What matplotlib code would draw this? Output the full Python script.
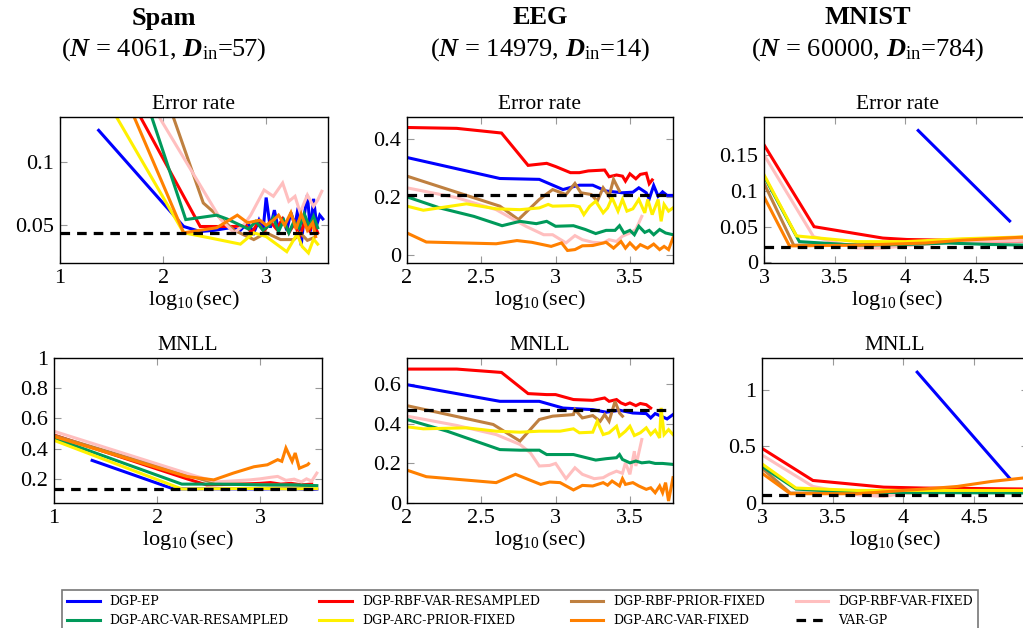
import matplotlib
matplotlib.use('Agg')
import matplotlib.pyplot as plt

plt.rcParams['font.family'] = ['Liberation Serif', 'DejaVu Serif']
plt.rcParams['mathtext.fontset'] = 'custom'
plt.rcParams['mathtext.rm'] = 'Liberation Serif'
plt.rcParams['mathtext.it'] = 'Liberation Serif:italic'
plt.rcParams['mathtext.bf'] = 'Liberation Serif:bold:italic'

##------------------------------------------------------##
# values (x = log10(sec))

# Spam, error rate
spam_err_ep = [(1.375, 0.1254), (2.2, 0.049), (2.36, 0.045), (2.5, 0.046), (2.65, 0.048), (2.75, 0.046),
               (2.82, 0.052), (2.88, 0.044), (2.93, 0.054), (2.97, 0.046), (3.0, 0.072), (3.04, 0.048),
               (3.08, 0.062), (3.12, 0.046), (3.16, 0.056), (3.2, 0.046), (3.24, 0.06), (3.28, 0.05),
               (3.31, 0.064), (3.34, 0.034), (3.37, 0.058), (3.4, 0.074), (3.43, 0.045), (3.46, 0.071),
               (3.49, 0.05), (3.52, 0.058), (3.55, 0.055)]
spam_err_rbf_var_res = [(1.4, 0.193), (2.36, 0.049), (2.5, 0.049), (2.69, 0.049), (2.8, 0.05), (2.86, 0.044),
                        (2.92, 0.052), (2.98, 0.045), (3.04, 0.053), (3.1, 0.047), (3.16, 0.055), (3.22, 0.044),
                        (3.28, 0.052), (3.32, 0.04), (3.38, 0.054), (3.42, 0.046), (3.46, 0.052), (3.5, 0.044)]
spam_err_rbf_prior_fix = [(1.6, 0.253), (2.39, 0.0677), (2.69, 0.046), (2.88, 0.0386), (3.0, 0.044),
                          (3.14, 0.0386), (3.27, 0.0386), (3.33, 0.044), (3.4, 0.038), (3.46, 0.04)]
spam_err_rbf_var_fix = [(1.5, 0.199), (2.56, 0.0545), (2.69, 0.044), (2.78, 0.05), (2.85, 0.058), (2.98, 0.078),
                        (3.07, 0.073), (3.16, 0.0836), (3.22, 0.069), (3.28, 0.073), (3.33, 0.06), (3.4, 0.074),
                        (3.46, 0.065), (3.5, 0.07), (3.54, 0.077)]
spam_err_arc_var_res = [(1.5, 0.232), (2.22, 0.0545), (2.52, 0.058), (2.62, 0.055), (2.75, 0.05), (2.83, 0.047),
                        (2.9, 0.053), (2.97, 0.046), (3.03, 0.05), (3.07, 0.056), (3.12, 0.045), (3.17, 0.054),
                        (3.22, 0.044), (3.27, 0.053), (3.32, 0.048), (3.37, 0.059), (3.42, 0.049), (3.46, 0.057),
                        (3.5, 0.048)]
spam_err_arc_prior_fix = [(1.3, 0.171), (2.2, 0.044), (2.45, 0.04), (2.75, 0.035), (2.88, 0.044), (3.0, 0.041),
                          (3.1, 0.035), (3.2, 0.029), (3.3, 0.043), (3.35, 0.033), (3.41, 0.028), (3.46, 0.039),
                          (3.5, 0.035)]
spam_err_arc_var_fix = [(1.4, 0.197), (2.2, 0.044), (2.52, 0.048), (2.72, 0.058), (2.82, 0.052), (2.94, 0.054),
                        (3.0, 0.05), (3.07, 0.054), (3.12, 0.058), (3.18, 0.05), (3.24, 0.06), (3.29, 0.047),
                        (3.34, 0.059), (3.4, 0.046), (3.45, 0.052), (3.48, 0.041)]
spam_err_vargp = [(1.0, 0.0439), (3.5, 0.0439)]

# Spam, MNLL
spam_nll_ep = [(1.37, 0.322), (2.16, 0.133), (2.5, 0.134), (3.0, 0.133), (3.3, 0.135), (3.5, 0.13), (3.55, 0.132)]
spam_nll_rbf_var_res = [(1.0, 0.49), (2.29, 0.2), (2.48, 0.16), (2.8, 0.165), (3.0, 0.17), (3.1, 0.175),
                        (3.2, 0.165), (3.3, 0.17), (3.4, 0.16), (3.5, 0.165)]
spam_nll_rbf_prior_fix = [(1.0, 0.487), (2.45, 0.193), (2.58, 0.17), (2.8, 0.165), (3.1, 0.16), (3.4, 0.158),
                          (3.5, 0.155)]
spam_nll_rbf_var_fix = [(1.0, 0.515), (2.39, 0.215), (2.58, 0.18), (2.9, 0.193), (3.0, 0.2), (3.1, 0.21),
                        (3.17, 0.216), (3.25, 0.19), (3.33, 0.198), (3.4, 0.18), (3.45, 0.2), (3.5, 0.185),
                        (3.55, 0.238)]
spam_nll_arc_var_res = [(1.0, 0.47), (2.24, 0.165), (2.6, 0.165), (3.0, 0.16), (3.3, 0.16), (3.55, 0.155)]
spam_nll_arc_prior_fix = [(1.0, 0.455), (2.24, 0.133), (2.6, 0.135), (3.0, 0.136), (3.3, 0.134), (3.55, 0.135)]
spam_nll_arc_var_fix = [(1.0, 0.48), (2.29, 0.215), (2.55, 0.193), (2.74, 0.238), (2.94, 0.28), (3.07, 0.293),
                        (3.17, 0.327), (3.21, 0.316), (3.25, 0.404), (3.31, 0.316), (3.34, 0.371), (3.38, 0.27),
                        (3.46, 0.293), (3.47, 0.30)]
spam_nll_vargp = [(1.0, 0.133), (3.55, 0.133)]

# EEG, error rate
eeg_err_ep = [(2.0, 0.336), (2.625, 0.264), (2.89, 0.261), (3.05, 0.226), (3.12, 0.236), (3.16, 0.241),
              (3.25, 0.241), (3.34, 0.221), (3.45, 0.215), (3.52, 0.217), (3.56, 0.232), (3.61, 0.215),
              (3.63, 0.194), (3.66, 0.24), (3.69, 0.203), (3.72, 0.218), (3.75, 0.206), (3.79, 0.206)]
eeg_err_rbf_var_res = [(2.0, 0.439), (2.335, 0.436), (2.636, 0.42), (2.815, 0.309), (2.94, 0.316), (3.0, 0.305),
                       (3.1, 0.284), (3.16, 0.284), (3.22, 0.29), (3.33, 0.293), (3.36, 0.27), (3.41, 0.276),
                       (3.45, 0.272), (3.47, 0.255), (3.5, 0.28), (3.54, 0.263), (3.57, 0.278), (3.61, 0.282),
                       (3.63, 0.246), (3.65, 0.259)]
eeg_err_rbf_prior_fix = [(2.0, 0.272), (2.625, 0.169), (2.75, 0.123), (2.89, 0.192), (2.98, 0.226), (3.07, 0.209),
                         (3.13, 0.247), (3.17, 0.215), (3.24, 0.209), (3.28, 0.186), (3.32, 0.232), (3.36, 0.203),
                         (3.39, 0.261), (3.43, 0.221)]
eeg_err_rbf_var_fix = [(2.0, 0.232), (2.335, 0.198), (2.6, 0.157), (2.8, 0.1), (2.92, 0.071), (2.98, 0.071),
                       (3.07, 0.043), (3.13, 0.068), (3.18, 0.054), (3.25, 0.045), (3.32, 0.043), (3.36, 0.054),
                       (3.41, 0.048), (3.45, 0.066), (3.5, 0.077), (3.54, 0.089), (3.58, 0.134)]
eeg_err_arc_var_res = [(2.0, 0.201), (2.22, 0.163), (2.45, 0.134), (2.64, 0.102), (2.76, 0.117), (2.87, 0.109),
                       (2.94, 0.117), (3.0, 0.1), (3.12, 0.102), (3.2, 0.089), (3.27, 0.075), (3.34, 0.086),
                       (3.4, 0.086), (3.43, 0.102), (3.46, 0.077), (3.5, 0.086), (3.53, 0.071), (3.56, 0.1),
                       (3.6, 0.079), (3.63, 0.086), (3.66, 0.071), (3.7, 0.089), (3.74, 0.077), (3.79, 0.071)]
eeg_err_arc_prior_fix = [(2.0, 0.169), (2.11, 0.155), (2.4, 0.177), (2.6, 0.16), (2.76, 0.157), (2.89, 0.163),
                         (2.95, 0.175), (2.98, 0.169), (3.12, 0.171), (3.16, 0.167), (3.19, 0.14), (3.23, 0.169),
                         (3.27, 0.186), (3.32, 0.146), (3.35, 0.163), (3.38, 0.198), (3.42, 0.152), (3.45, 0.192),
                         (3.48, 0.152), (3.52, 0.16), (3.56, 0.192), (3.6, 0.146), (3.62, 0.192), (3.65, 0.14),
                         (3.69, 0.192), (3.71, 0.117), (3.73, 0.175), (3.76, 0.152), (3.79, 0.163)]
eeg_err_arc_var_fix = [(2.0, 0.077), (2.13, 0.046), (2.6, 0.04), (2.74, 0.051), (2.84, 0.045), (2.97, 0.031),
                       (3.04, 0.043), (3.08, 0.017), (3.13, 0.02), (3.18, 0.033), (3.25, 0.034), (3.34, 0.045),
                       (3.39, 0.025), (3.44, 0.048), (3.47, 0.025), (3.5, 0.043), (3.54, 0.022), (3.57, 0.037),
                       (3.62, 0.025), (3.66, 0.039), (3.7, 0.02), (3.73, 0.031), (3.76, 0.02), (3.79, 0.06)]
eeg_err_vargp = [(2.0, 0.206), (3.79, 0.206)]

# EEG, MNLL
eeg_nll_ep = [(2.0, 0.598), (2.625, 0.514), (2.89, 0.514), (3.05, 0.48), (3.25, 0.472), (3.34, 0.459),
              (3.43, 0.469), (3.52, 0.455), (3.61, 0.452), (3.64, 0.43), (3.67, 0.452), (3.71, 0.439),
              (3.75, 0.425), (3.79, 0.447)]
eeg_nll_rbf_var_res = [(2.0, 0.677), (2.335, 0.677), (2.636, 0.66), (2.815, 0.553), (2.94, 0.548), (3.0, 0.548),
                       (3.12, 0.523), (3.25, 0.519), (3.33, 0.531), (3.36, 0.514), (3.41, 0.523), (3.44, 0.506),
                       (3.47, 0.497), (3.5, 0.506), (3.54, 0.492), (3.57, 0.503), (3.61, 0.497), (3.64, 0.48)]
eeg_nll_rbf_prior_fix = [(2.0, 0.492), (2.58, 0.397), (2.76, 0.313), (2.89, 0.422), (2.98, 0.439), (3.12, 0.447),
                         (3.13, 0.472), (3.18, 0.43), (3.25, 0.442), (3.3, 0.413), (3.33, 0.447), (3.36, 0.413),
                         (3.4, 0.514), (3.43, 0.455), (3.45, 0.439)]
eeg_nll_rbf_var_fix = [(2.0, 0.439), (2.335, 0.392), (2.6, 0.346), (2.76, 0.296), (2.83, 0.254), (2.89, 0.187),
                       (2.96, 0.19), (3.0, 0.2), (3.07, 0.123), (3.13, 0.178), (3.18, 0.145), (3.26, 0.123),
                       (3.32, 0.128), (3.36, 0.145), (3.41, 0.161), (3.45, 0.15), (3.47, 0.203), (3.5, 0.145),
                       (3.53, 0.262), (3.54, 0.187), (3.56, 0.254), (3.58, 0.321)]
eeg_nll_arc_var_res = [(2.0, 0.422), (2.27, 0.363), (2.625, 0.27), (2.76, 0.267), (2.89, 0.267), (2.94, 0.245),
                       (3.12, 0.245), (3.27, 0.217), (3.34, 0.224), (3.41, 0.229), (3.43, 0.245), (3.45, 0.22),
                       (3.5, 0.203), (3.54, 0.212), (3.58, 0.203), (3.63, 0.207), (3.67, 0.2), (3.72, 0.2),
                       (3.79, 0.195)]
eeg_nll_arc_prior_fix = [(2.0, 0.385), (2.11, 0.375), (2.4, 0.38), (2.6, 0.363), (2.76, 0.358), (2.89, 0.363),
                         (3.03, 0.363), (3.12, 0.375), (3.16, 0.355), (3.25, 0.358), (3.28, 0.413), (3.32, 0.346),
                         (3.36, 0.355), (3.41, 0.388), (3.43, 0.338), (3.47, 0.363), (3.5, 0.388), (3.53, 0.341),
                         (3.57, 0.355), (3.61, 0.38), (3.64, 0.346), (3.67, 0.368), (3.7, 0.329), (3.71, 0.481),
                         (3.73, 0.346), (3.76, 0.371), (3.79, 0.346)]
eeg_nll_arc_var_fix = [(2.0, 0.166), (2.13, 0.133), (2.6, 0.103), (2.73, 0.145), (2.9, 0.094), (2.96, 0.106),
                       (3.03, 0.103), (3.12, 0.066), (3.18, 0.089), (3.25, 0.086), (3.32, 0.103), (3.35, 0.09),
                       (3.38, 0.111), (3.43, 0.086), (3.45, 0.123), (3.47, 0.094), (3.52, 0.103), (3.56, 0.086),
                       (3.61, 0.069), (3.64, 0.077), (3.67, 0.052), (3.7, 0.086), (3.72, 0.052), (3.74, 0.103),
                       (3.76, 0.01), (3.79, 0.128)]
eeg_nll_vargp = [(2.0, 0.469), (3.79, 0.469)]

# MNIST, error rate
mnist_err_ep = [(4.09, 0.185), (4.736, 0.058)]
mnist_err_rbf_var_res = [(3.0, 0.165), (3.354, 0.05), (3.84, 0.034), (4.01, 0.032), (4.3, 0.031), (4.6, 0.03),
                         (4.9, 0.03)]
mnist_err_rbf_prior_fix = [(3.0, 0.111), (3.21, 0.024), (3.9, 0.025), (4.3, 0.029), (4.9, 0.032)]
mnist_err_rbf_var_fix = [(3.0, 0.151), (3.35, 0.036), (3.66, 0.02), (3.84, 0.02), (4.0, 0.023), (4.3, 0.028),
                         (4.6, 0.03), (4.9, 0.031)]
mnist_err_arc_var_res = [(3.0, 0.121), (3.25, 0.029), (3.66, 0.024), (4.0, 0.025), (4.3, 0.027), (4.6, 0.025),
                         (4.9, 0.024)]
mnist_err_arc_prior_fix = [(3.0, 0.123), (3.23, 0.037), (3.66, 0.029), (4.0, 0.029), (4.4, 0.033), (4.9, 0.036)]
mnist_err_arc_var_fix = [(3.0, 0.092), (3.18, 0.023), (3.66, 0.024), (4.14, 0.027), (4.4, 0.031), (4.6, 0.033),
                         (4.9, 0.036)]
mnist_err_vargp = [(3.0, 0.021), (4.9, 0.021)]

# MNIST, MNLL
mnist_nll_ep = [(4.097, 1.155), (4.75, 0.219)]
mnist_nll_rbf_var_res = [(3.0, 0.482), (3.36, 0.199), (3.86, 0.14), (4.14, 0.132), (4.9, 0.123)]
mnist_nll_rbf_prior_fix = [(3.0, 0.307), (3.2, 0.088), (3.9, 0.088), (4.9, 0.1)]
mnist_nll_rbf_var_fix = [(3.0, 0.424), (3.36, 0.146), (3.67, 0.073), (3.86, 0.058), (4.14, 0.111), (4.9, 0.1)]
mnist_nll_arc_var_res = [(3.0, 0.322), (3.24, 0.123), (3.67, 0.094), (4.9, 0.088)]
mnist_nll_arc_prior_fix = [(3.0, 0.345), (3.24, 0.132), (3.67, 0.111), (4.9, 0.111)]
mnist_nll_arc_var_fix = [(3.0, 0.263), (3.2, 0.082), (3.67, 0.082), (4.14, 0.123), (4.38, 0.146), (4.62, 0.19),
                         (4.9, 0.228)]
mnist_nll_vargp = [(3.0, 0.073), (4.9, 0.073)]

methods = ['DGP-EP', 'DGP-RBF-VAR-RESAMPLED', 'DGP-RBF-PRIOR-FIXED', 'DGP-RBF-VAR-FIXED',
           'DGP-ARC-VAR-RESAMPLED', 'DGP-ARC-PRIOR-FIXED', 'DGP-ARC-VAR-FIXED', 'VAR-GP']
colors = ['#0000FF', '#FF0000', '#BF8040', '#FFBFBF', '#00995A', '#FFF000', '#FF8000', 'black']

col_titles = ['Spam', 'EEG', 'MNIST']
col_sub = [r'($\mathbf{N}$ = 4061, $\mathbf{D}_{\mathrm{in}}$=57)',
           r'($\mathbf{N}$ = 14979, $\mathbf{D}_{\mathrm{in}}$=14)',
           r'($\mathbf{N}$ = 60000, $\mathbf{D}_{\mathrm{in}}$=784)']

panels = [
    # (series, xlim, ylim, xticks, yticks, yticklabels, title)
    ([spam_err_ep, spam_err_rbf_var_res, spam_err_rbf_prior_fix, spam_err_rbf_var_fix,
      spam_err_arc_var_res, spam_err_arc_prior_fix, spam_err_arc_var_fix, spam_err_vargp],
     (1, 3.6), (0.02, 0.136), [1, 2, 3], [0.05, 0.1], ['0.05', '0.1'], 'Error rate'),
    ([eeg_err_ep, eeg_err_rbf_var_res, eeg_err_rbf_prior_fix, eeg_err_rbf_var_fix,
      eeg_err_arc_var_res, eeg_err_arc_prior_fix, eeg_err_arc_var_fix, eeg_err_vargp],
     (2, 3.79), (-0.026, 0.475), [2, 2.5, 3, 3.5], [0, 0.2, 0.4], ['0', '0.2', '0.4'], 'Error rate'),
    ([mnist_err_ep, mnist_err_rbf_var_res, mnist_err_rbf_prior_fix, mnist_err_rbf_var_fix,
      mnist_err_arc_var_res, mnist_err_arc_prior_fix, mnist_err_arc_var_fix, mnist_err_vargp],
     (3, 4.88), (-0.001, 0.204), [3, 3.5, 4, 4.5], [0, 0.05, 0.1, 0.15], ['0', '0.05', '0.1', '0.15'], 'Error rate'),
    ([spam_nll_ep, spam_nll_rbf_var_res, spam_nll_rbf_prior_fix, spam_nll_rbf_var_fix,
      spam_nll_arc_var_res, spam_nll_arc_prior_fix, spam_nll_arc_var_fix, spam_nll_vargp],
     (1, 3.6), (0.04, 1.0), [1, 2, 3], [0.2, 0.4, 0.6, 0.8, 1.0], ['0.2', '0.4', '0.6', '0.8', '1'], 'MNLL'),
    ([eeg_nll_ep, eeg_nll_rbf_var_res, eeg_nll_rbf_prior_fix, eeg_nll_rbf_var_fix,
      eeg_nll_arc_var_res, eeg_nll_arc_prior_fix, eeg_nll_arc_var_fix, eeg_nll_vargp],
     (2, 3.79), (0, 0.733), [2, 2.5, 3, 3.5], [0, 0.2, 0.4, 0.6], ['0', '0.2', '0.4', '0.6'], 'MNLL'),
    ([mnist_nll_ep, mnist_nll_rbf_var_res, mnist_nll_rbf_prior_fix, mnist_nll_rbf_var_fix,
      mnist_nll_arc_var_res, mnist_nll_arc_prior_fix, mnist_nll_arc_var_fix, mnist_nll_vargp],
     (3, 4.88), (0, 1.28), [3, 3.5, 4, 4.5], [0, 0.5, 1.0], ['0', '0.5', '1'], 'MNLL'),
]

W, H = 1023, 628
# axes boxes in pixels: left, top, right, bottom
boxes = [(60, 117, 328, 263), (407, 117, 673, 263), (764, 117, 1030, 263),
         (54, 358, 322, 503), (407, 358, 673, 503), (762, 358, 1028, 503)]

fig = plt.figure(figsize=(W / 100, H / 100), dpi=100)

handles = []
for i, (series, xlim, ylim, xt, yt, ytl, ttl) in enumerate(panels):
    l, t, r, b = boxes[i]
    ax = fig.add_axes([l / W, 1 - b / H, (r - l) / W, (b - t) / H])
    for k, pts in enumerate(series):
        xs = [p[0] for p in pts]
        ys = [p[1] for p in pts]
        if methods[k] == 'VAR-GP':
            ln, = ax.plot(xs, ys, color='black', lw=2.3, ls=(0, (3, 2.2)), label=methods[k], zorder=5)
        else:
            ln, = ax.plot(xs, ys, color=colors[k], lw=2.2, label=methods[k], solid_joinstyle='miter')
        if i == 0:
            handles.append(ln)
    ax.set_xlim(*xlim)
    ax.set_ylim(*ylim)
    ax.set_xticks(xt)
    ax.set_xticklabels([('%g' % v) for v in xt])
    ax.set_yticks(yt)
    ax.set_yticklabels(ytl)
    ax.tick_params(direction='in', top=True, right=True, color='#999999', length=5, width=0.8,
                   labelsize=16, pad=4)
    for s in ax.spines.values():
        s.set_linewidth(1.0)
    ax.set_title(ttl, fontsize=15.5, pad=6)
    ax.set_xlabel(r'$\log_{10}$(sec)', fontsize=16, labelpad=0)

# column headings
for cx, name, sub in zip([164, 540, 868], col_titles, col_sub):
    fig.text(cx / W, 1 - 18 / H, name, ha='center', va='center', fontsize=19, fontweight='bold')
    fig.text(cx / W, 1 - 50 / H, sub, ha='center', va='center', fontsize=19)

# legend: pgfplots fills row-wise, matplotlib column-wise -> reorder
order = [0, 4, 1, 5, 2, 6, 3, 7]
leg = fig.legend([handles[j] for j in order], [methods[j] for j in order],
                 loc='upper left', bbox_to_anchor=(62 / W, 0, 916 / W, 1 - 590 / H),
                 mode='expand', ncol=4, borderaxespad=0, frameon=True,
                 fancybox=False, edgecolor='#555555', handlelength=2.6, labelspacing=0.5,
                 prop={'family': 'DejaVu Serif', 'size': 9})
leg.get_frame().set_linewidth(1.2)

plt.savefig('out.png', dpi=100)
